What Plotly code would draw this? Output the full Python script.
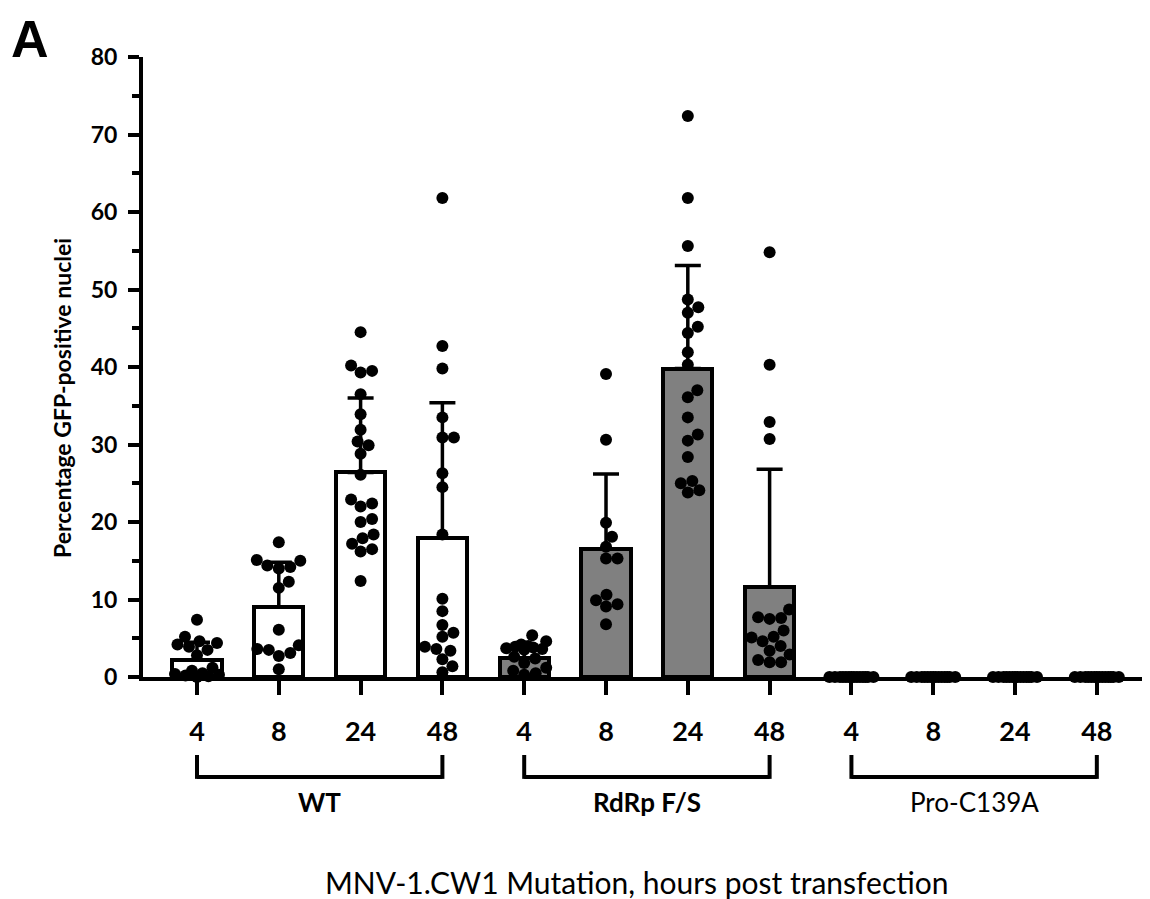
import numpy as np
import plotly.graph_objects as go

# ---------------- data ----------------
groups = ["WT", "RdRp F/S", "Pro-C139A"]
hours = ["4", "8", "24", "48"]

wt_4 = [7.4, 5.2, 4.6, 4.4, 4.2, 3.9, 3.5, 2.8, 1.2, 0.8, 0.5, 0.4, 0.3, 0.2, 0.1, 0.0]
wt_8 = [17.4, 15.1, 15.0, 14.4, 14.2, 14.0, 12.3, 11.5, 6.1, 4.1, 3.6, 3.5, 3.1, 2.7, 1.0]
wt_24 = [44.5, 40.2, 39.5, 39.3, 36.5, 33.9, 31.9, 30.4, 29.9, 28.8, 26.1, 22.9, 22.4,
         22.0, 20.4, 20.0, 18.4, 17.9, 17.2, 16.5, 16.2, 12.4]
wt_48 = [61.8, 42.7, 39.8, 33.5, 30.9, 30.9, 26.3, 24.5, 18.4, 10.1, 8.5, 6.7, 5.7, 5.2,
         3.9, 3.6, 3.4, 2.3, 1.4, 0.6]
rd_4 = [5.4, 4.6, 4.2, 4.0, 3.9, 3.8, 3.7, 3.6, 3.5, 2.6, 2.4, 1.8, 1.2, 0.8, 0.5, 0.3]
rd_8 = [39.1, 30.6, 19.9, 18.1, 16.8, 15.3, 15.3, 10.6, 9.9, 9.4, 9.1, 6.8]
rd_24 = [72.4, 61.8, 55.6, 48.7, 47.7, 47.0, 45.2, 44.4, 41.9, 40.3, 37.0, 36.1, 33.5,
         31.3, 30.5, 28.4, 25.3, 25.0, 24.1, 23.8]
rd_48 = [54.8, 40.3, 32.9, 30.7, 8.7, 7.7, 7.6, 7.5, 6.0, 5.2, 5.1, 4.6, 4.0, 3.4, 2.9,
         2.2, 1.9, 1.9]
pro_4 = [0.0] * 14
pro_8 = [0.0] * 14
pro_24 = [0.0] * 14
pro_48 = [0.0] * 14

bar_means = [2.2, 9.0, 26.4, 17.9, 2.5, 16.5, 39.8, 11.6, 0.0, 0.0, 0.0, 0.0]
bar_sd = [2.3, 5.8, 9.6, 17.5, 1.6, 9.7, 13.3, 15.2, 0.0, 0.0, 0.0, 0.0]

points = [wt_4, wt_8, wt_24, wt_48, rd_4, rd_8, rd_24, rd_48,
          pro_4, pro_8, pro_24, pro_48]

# ---------------- styling constants ----------------
OFF = 8                      # page body margin of the written html
W, H = 1150 - OFF, 899 - OFF
ML, MR, MT, MB = 143 - OFF, 0, 57 - OFF, 222
XMIN, XMAX = -0.66, 11.65
YMIN, YMAX = 0, 80
PW, PH = W - ML - MR, H - MT - MB
PX_PER_CAT = PW / (XMAX - XMIN)
PX_PER_Y = PH / (YMAX - YMIN)
DOT = 12
GRAY = "#808080"
FONT = "Lato"


def paper_x(px_ref):
    return (px_ref - OFF - ML) / PW


def paper_y(py_ref):
    return (MT + PH - (py_ref - OFF)) / PH


def beeswarm(vals, diameter=11.5, max_half=22.0):
    """x offsets (category units) so dots sit side by side, GraphPad-like."""
    n = len(vals)
    cands = np.arange(-max_half, max_half + 0.01, 0.5)
    cands = sorted(cands, key=lambda c: (abs(c), c < 0))
    placed = []
    offs = [0.0] * n
    order = sorted(range(n), key=lambda i: vals[i])
    for i in order:
        ypx = vals[i] * PX_PER_Y
        best_c, best_d = 0.0, -1.0
        chosen = None
        for c in cands:
            if placed:
                d = min(np.hypot(c - px, ypx - py) for px, py in placed)
            else:
                d = np.inf
            if d >= diameter:
                chosen = c
                break
            if d > best_d:
                best_d, best_c = d, c
        if chosen is None:
            chosen = best_c
        placed.append((chosen, ypx))
        offs[i] = chosen / PX_PER_CAT
    return offs


cat_x = list(range(len(points)))
bar_colors = ["white"] * 4 + [GRAY] * 4 + ["white"] * 4

fig = go.Figure()
fig.add_trace(go.Bar(
    x=cat_x, y=bar_means, width=0.6,
    marker=dict(color=bar_colors, line=dict(color="black", width=4)),
    error_y=dict(type="data", symmetric=False, array=bar_sd,
                 arrayminus=[0] * len(bar_sd), color="black",
                 thickness=3.5, width=13),
    showlegend=False, hoverinfo="skip",
))

xs, ys = [], []
for ci, vals in enumerate(points):
    offs = beeswarm(vals)
    xs += [ci + o for o in offs]
    ys += vals
fig.add_trace(go.Scatter(
    x=xs, y=ys, mode="markers",
    marker=dict(color="black", size=DOT, line=dict(width=0)),
    cliponaxis=False, showlegend=False,
))

# brackets beneath hour labels
group_fonts = [dict(size=26, weight="bold"), dict(size=26, weight="bold"),
               dict(size=26, weight="normal")]
for gi, g in enumerate(groups):
    x0, x1 = gi * 4, gi * 4 + 3
    yb = paper_y(777)
    yt = paper_y(755)
    fig.add_shape(type="line", xref="x", yref="paper", x0=x0, x1=x1, y0=yb, y1=yb,
                  line=dict(color="black", width=4))
    for xv in (x0, x1):
        fig.add_shape(type="line", xref="x", yref="paper", x0=xv, x1=xv,
                      y0=yb - 0.003, y1=yt, line=dict(color="black", width=4))
    fig.add_annotation(x=(x0 + x1) / 2, xref="x", yref="paper",
                       y=paper_y(802), yanchor="middle", text=g, showarrow=False,
                       font=dict(family=FONT, color="black", **group_fonts[gi]))

# x title
fig.add_annotation(text="MNV-1.CW1 Mutation, hours post transfection",
                   xref="paper", yref="paper", x=paper_x(636), y=paper_y(882),
                   xanchor="center", yanchor="middle", showarrow=False,
                   font=dict(family=FONT, size=30, color="black"))
# y title
fig.add_annotation(text="Percentage GFP-positive nuclei",
                   xref="paper", yref="paper", textangle=-90,
                   x=paper_x(62), y=paper_y(398),
                   xanchor="center", yanchor="middle", showarrow=False,
                   font=dict(family=FONT, size=23, color="black", weight="bold"))
# panel letter
fig.add_annotation(text="<b>A</b>", xref="paper", yref="paper",
                   x=paper_x(30), y=1 + MT / PH,
                   xanchor="center", yanchor="top", showarrow=False,
                   font=dict(family="Liberation Sans", size=52, color="black"))

fig.update_layout(
    width=W, height=H, margin=dict(l=ML, r=MR, t=MT, b=MB, pad=0),
    plot_bgcolor="white", paper_bgcolor="white",
    bargap=0,
    xaxis=dict(range=[XMIN, XMAX], tickvals=cat_x, ticktext=hours * 3,
               showline=True, linecolor="black", linewidth=4,
               ticks="outside", ticklen=14, tickwidth=3.5, tickcolor="black",
               showgrid=False, zeroline=False, ticklabelstandoff=14,
               tickfont=dict(family=FONT, size=27, color="black", weight="bold")),
    yaxis=dict(range=[YMIN, YMAX], tickvals=list(range(0, 81, 10)),
               showline=True, linecolor="black", linewidth=4,
               ticks="outside", ticklen=11, tickwidth=3.5, tickcolor="black",
               minor=dict(dtick=5, ticks="outside", ticklen=7, tickwidth=3.5,
                          tickcolor="black", showgrid=False),
               showgrid=False, zeroline=False, ticklabelstandoff=6,
               tickfont=dict(family=FONT, size=23, color="black", weight="bold")),
)

fig.write_html("out.html")
